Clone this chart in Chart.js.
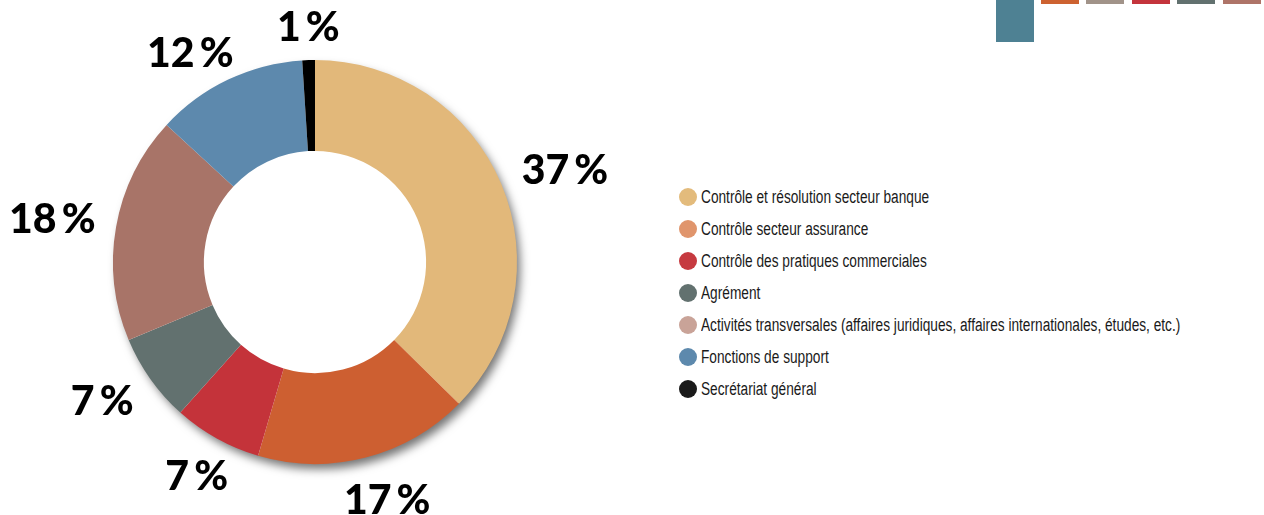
<!DOCTYPE html>
<html>
<head>
<meta charset="utf-8">
<script src="https://cdn.jsdelivr.net/npm/chart.js@4"></script>
<style>
  html, body { margin: 0; padding: 0; background: #fff; width: 1264px; height: 515px; overflow: hidden; position: relative; }
  #wrap { position: absolute; left: 0; top: 0; width: 630px; height: 515px; }
  #legend { position: absolute; left: 679px; top: 181px; font-family: "Liberation Sans", Arial, sans-serif; font-size: 18px; color: #1a1a1a; }
  #legend .row { height: 32px; display: flex; align-items: center; white-space: nowrap; }
  #legend .dot { width: 18px; height: 18px; border-radius: 50%; margin-right: 4px; flex: none; }
  #legend .txt { display: inline-block; transform: scaleX(0.76); transform-origin: left center; }
  .deco { position: absolute; top: 0; }
</style>
</head>
<body>
<div id="wrap"><canvas id="myChart"></canvas></div>
<div id="legend"></div>
<div class="deco" style="left:996px;width:38px;height:42px;background:#4e8193"></div>
<div class="deco" style="left:1041px;width:38px;height:4px;background:#cd6231"></div>
<div class="deco" style="left:1086px;width:38px;height:4px;background:#a19389"></div>
<div class="deco" style="left:1132px;width:38px;height:4px;background:#c4343c"></div>
<div class="deco" style="left:1177px;width:38px;height:4px;background:#62716f"></div>
<div class="deco" style="left:1223px;width:38px;height:4px;background:#ae7468"></div>
<script>
const categories = [
    'Contrôle et résolution secteur banque',
    'Contrôle secteur assurance',
    'Contrôle des pratiques commerciales',
    'Agrément',
    'Activités transversales (affaires juridiques, affaires internationales, études, etc.)',
    'Fonctions de support',
    'Secrétariat général'
];
const shares = [37, 17, 7, 7, 18, 12, 1];
const sliceColors = ['#e2b87a', '#cd5f31', '#c4333a', '#62716f', '#a87468', '#5d89ad', '#000000'];
const legendColors = ['#e3bb7c', '#e0956c', '#c63a40', '#62716f', '#c9a398', '#5d89ad', '#1a1a1a'];

// Décalages fins des étiquettes (dx, dy)
const labelNudges = [[6, 8], [11, 0], [1, -3], [-8, -9], [0, 1], [-18, 13], [1, 4]];

// Légende HTML
const legend = document.getElementById('legend');
categories.forEach((name, i) => {
    const row = document.createElement('div');
    row.className = 'row';
    row.innerHTML = '<span class="dot" style="background:' + legendColors[i] + '"></span><span class="txt">' + name + '</span>';
    legend.appendChild(row);
});

// Ombre portée sous l'anneau
const shadowPlugin = {
    id: 'ringShadow',
    beforeDatasetsDraw(chart) {
        const arc = chart.getDatasetMeta(0).data[0];
        if (!arc) return;
        const ctx = chart.ctx;
        ctx.save();
        ctx.shadowColor = 'rgba(0,0,0,0.55)';
        ctx.shadowBlur = 10;
        ctx.shadowOffsetX = 4;
        ctx.shadowOffsetY = 6;
        ctx.fillStyle = '#ffffff';
        ctx.beginPath();
        ctx.arc(arc.x, arc.y, arc.outerRadius - 1, 0, Math.PI * 2);
        ctx.fill();
        ctx.restore();
    }
};

// Étiquettes de pourcentage à l'extérieur
const labelPlugin = {
    id: 'outerLabels',
    afterDatasetsDraw(chart) {
        const ctx = chart.ctx;
        ctx.save();
        ctx.font = '900 41px Lato';
        ctx.fillStyle = '#000';
        ctx.textAlign = 'center';
        ctx.textBaseline = 'middle';
        chart.getDatasetMeta(0).data.forEach((arc, i) => {
            const text = shares[i] + '\u2009%';
            const a = (arc.startAngle + arc.endAngle) / 2;
            const w = ctx.measureText(text).width / 2;
            const h = 17;
            const c = Math.cos(a), s = Math.sin(a);
            const r = arc.outerRadius + 22 + Math.sqrt((w * c) * (w * c) + (h * s) * (h * s));
            const n = labelNudges[i];
            ctx.fillText(text, arc.x + r * c + n[0], arc.y + r * s + 3 + n[1]);
        });
        ctx.restore();
    }
};

const ctx = document.getElementById('myChart').getContext('2d');
new Chart(ctx, {
    type: 'doughnut',
    data: {
        labels: categories,
        datasets: [{
            data: shares,
            backgroundColor: sliceColors,
            borderWidth: 0
        }]
    },
    options: {
        responsive: true,
        maintainAspectRatio: false,
        animation: false,
        cutout: '55%',
        layout: { padding: { top: 60, bottom: 51, left: 113, right: 113 } },
        plugins: {
            legend: { display: false },
            tooltip: { enabled: false }
        }
    },
    plugins: [shadowPlugin, labelPlugin]
});
</script>
</body>
</html>
